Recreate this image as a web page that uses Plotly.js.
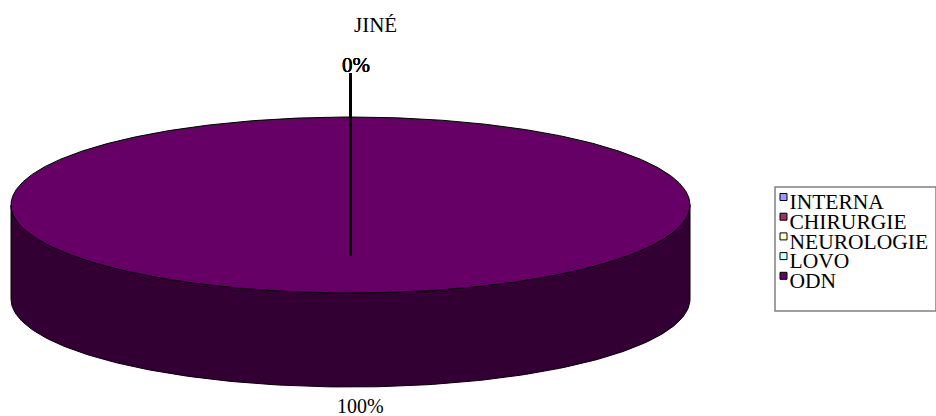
<!DOCTYPE html>
<html>
<head>
<meta charset="utf-8">
<script src="https://cdn.plot.ly/plotly-3.0.1.min.js"></script>
<style>html,body{margin:0;padding:0;background:#fff}#chart{width:936px;height:416px}</style>
</head>
<body>
<div id="chart"></div>
<script>
// Department shares of a single disc-shaped pie
const categories = ['INTERNA', 'CHIRURGIE', 'NEUROLOGIE', 'LOVO', 'ODN'];
const shares = [0, 0, 0, 0, 100];
const sliceColors = ['#9999FF', '#993366', '#FFFFCC', '#CCFFFF', '#660066'];
const sideColors = ['#4D4D80', '#4D1A33', '#808066', '#668080', '#330033'];
const chartTitle = 'JINÉ';

// Disc geometry, in axis units (one unit is one pixel)
const cx = 350.5, cy = 205, rx = 339.5, ry = 88, depth = 94;
const serif = 'Liberation Serif, Times New Roman, serif';

function rimPoint(turn, drop) {
  const a = 2 * Math.PI * turn;
  return [cx + rx * Math.sin(a), cy - ry * Math.cos(a) + drop];
}

const discTraces = [];
const leaderTraces = [];
const annotations = [];
const total = shares.reduce((s, v) => s + v, 0);
let start = 0;

categories.forEach((name, i) => {
  const frac = shares[i] / total;
  const end = start + frac;
  const label = Math.round(frac * 100) + '%';

  if (frac > 0) {
    // Visible wall below the front half of the rim
    const wx = [], wy = [];
    for (let k = 0; k <= 180; k++) {
      const p = rimPoint(0.25 + k / 360, 0); wx.push(p[0]); wy.push(p[1]);
    }
    for (let k = 180; k >= 0; k--) {
      const p = rimPoint(0.25 + k / 360, depth); wx.push(p[0]); wy.push(p[1]);
    }
    wx.push(wx[0]); wy.push(wy[0]);
    discTraces.push({
      x: wx, y: wy, mode: 'lines', fill: 'toself', fillcolor: sideColors[i],
      line: { color: '#000', width: 1 }, hoverinfo: 'skip', showlegend: false
    });

    // Top face of the slice
    const tx = [], ty = [];
    const steps = Math.max(2, Math.round(frac * 720));
    for (let k = 0; k <= steps; k++) {
      const p = rimPoint(start + frac * k / steps, 0); tx.push(p[0]); ty.push(p[1]);
    }
    discTraces.push({
      x: tx, y: ty, mode: 'lines', fill: 'toself', fillcolor: sliceColors[i],
      line: { color: '#000', width: 1 }, hoverinfo: 'skip', showlegend: false
    });

    // Percentage under the disc
    annotations.push({
      x: 360.5, y: 406, text: label,
      showarrow: false, font: { family: serif, size: 20, color: '#000' }
    });
  } else {
    // Empty slices collapse onto one leader line, their labels stacked
    leaderTraces.push({
      x: [350.5, 350.5], y: [256, 73], mode: 'lines',
      line: { color: '#000', width: 3 }, hoverinfo: 'skip', showlegend: false
    });
    annotations.push({
      x: 356, y: 65, text: label,
      showarrow: false, font: { family: serif, size: 21, color: '#000' }
    });
  }
  start = end;
});

// Key: swatches and their names, stepped down a fixed row height
const rowY = categories.map((_, i) => 197 + i * 19.7);
const keyTraces = [{
  x: categories.map(() => 783.5), y: rowY, mode: 'markers',
  marker: { symbol: 'square', size: 7, color: sliceColors, line: { color: '#000', width: 1 } },
  hoverinfo: 'skip', showlegend: false
}, {
  x: categories.map(() => 789.5), y: rowY.map(v => v + 7), mode: 'text', text: categories,
  textposition: 'middle right', textfont: { family: serif, size: 21.5, color: '#000' },
  hoverinfo: 'skip', showlegend: false
}];

annotations.push({
  x: 375, y: 24.5, text: chartTitle, showarrow: false,
  font: { family: serif, size: 21, color: '#000' }
});

const layout = {
  width: 936, height: 416, margin: { l: 0, r: 0, t: 0, b: 0 },
  paper_bgcolor: '#fff', plot_bgcolor: '#fff', showlegend: false,
  xaxis: { range: [0, 936], visible: false, fixedrange: true },
  yaxis: { range: [416, 0], visible: false, fixedrange: true },
  annotations: annotations,
  shapes: [{
    type: 'rect', xref: 'x', yref: 'y', x0: 775, y0: 187, x1: 936, y1: 311,
    line: { color: '#808080', width: 1.5 }, fillcolor: 'rgba(0,0,0,0)'
  }]
};

Plotly.newPlot('chart', discTraces.concat(leaderTraces, keyTraces), layout,
  { displayModeBar: false, staticPlot: true });
</script>
</body>
</html>
